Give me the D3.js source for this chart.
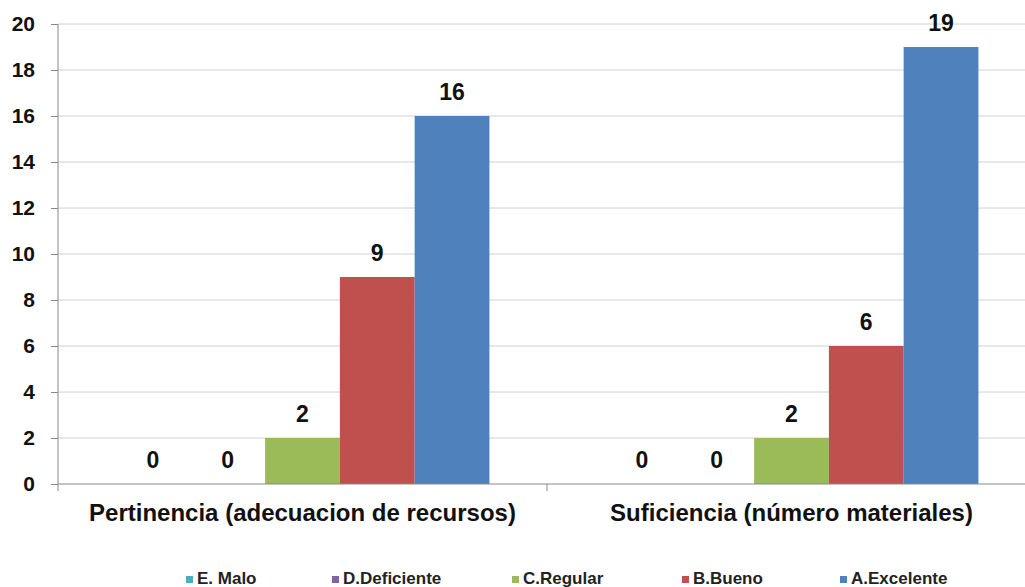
<!DOCTYPE html>
<html>
<head>
<meta charset="utf-8">
<script src="https://cdn.jsdelivr.net/npm/d3@7"></script>
<style>
body { margin: 0; background: #fff; }
svg { display: block; font-family: "Liberation Sans", Arial, sans-serif; }
</style>
</head>
<body>
<svg id="chart" width="1025" height="587"></svg>
<script>
// data
const categories = ["Pertinencia (adecuacion de recursos)", "Suficiencia (número materiales)"]
const seriesNames = ["E. Malo", "D.Deficiente", "C.Regular", "B.Bueno", "A.Excelente"]
const seriesColors = ["#4bacc6", "#8064a2", "#9bbb59", "#c0504d", "#4f81bd"]
const values = [
	[0, 0, 2, 9, 16],
	[0, 0, 2, 6, 19]
]
const yTicks = [0, 2, 4, 6, 8, 10, 12, 14, 16, 18, 20]

const svg = d3.select('#chart')
const plotLeft = 58, plotRight = 1036, plotTop = 24, plotBottom = 484

const x0 = d3.scaleBand().domain(categories).range([plotLeft, plotRight])
const x1 = d3.scaleBand().domain(seriesNames)
	.range([0, x0.bandwidth()]).paddingOuter(0.77)
const y = d3.scaleLinear().domain([0, 20]).range([plotBottom, plotTop])

// gridlines
svg.append('g').selectAll('line').data(yTicks.slice(1)).join('line')
	.attr('x1', plotLeft).attr('x2', plotRight)
	.attr('y1', d => y(d)).attr('y2', d => y(d))
	.attr('stroke', '#d0d0d0').attr('stroke-width', 1)

// bars
const groups = svg.append('g').selectAll('g').data(categories).join('g')
	.attr('transform', d => `translate(${x0(d)},0)`)

groups.selectAll('rect')
	.data((c, i) => seriesNames.map((s, j) => ({ s: s, v: values[i][j], color: seriesColors[j] })))
	.join('rect')
	.attr('x', d => x1(d.s))
	.attr('width', x1.bandwidth())
	.attr('y', d => y(d.v))
	.attr('height', d => plotBottom - y(d.v))
	.attr('fill', d => d.color)

groups.selectAll('text')
	.data((c, i) => seriesNames.map((s, j) => ({ s: s, v: values[i][j] })))
	.join('text')
	.attr('x', d => x1(d.s) + x1.bandwidth() / 2)
	.attr('y', d => y(d.v) - 16)
	.attr('text-anchor', 'middle')
	.attr('font-size', 23).attr('font-weight', 'bold').attr('fill', '#111')
	.text(d => d.v)

// y axis
const yAxis = svg.append('g').attr('transform', `translate(${plotLeft},0)`)
	.call(d3.axisLeft(y).tickValues(yTicks).tickSize(7).tickPadding(16))
yAxis.select('.domain').attr('stroke', '#888').attr('d', `M0,${plotTop}V${plotBottom}`)
yAxis.selectAll('.tick line').attr('stroke', '#888')
yAxis.selectAll('text').attr('font-size', 21).attr('font-weight', 'bold')
	.attr('fill', '#111').attr('font-family', '"Liberation Sans", Arial, sans-serif')

// x axis
const xAxis = svg.append('g').attr('transform', `translate(0,${plotBottom})`)
xAxis.append('line').attr('x1', plotLeft).attr('x2', plotRight)
	.attr('stroke', '#888')
xAxis.selectAll('.ctick').data(categories).join('line')
	.attr('class', 'ctick')
	.attr('x1', d => x0(d)).attr('x2', d => x0(d))
	.attr('y1', 0).attr('y2', 7).attr('stroke', '#888')
xAxis.selectAll('.clabel').data(categories).join('text')
	.attr('class', 'clabel')
	.attr('x', d => x0(d) + x0.bandwidth() / 2)
	.attr('y', 37)
	.attr('text-anchor', 'middle')
	.attr('font-size', 24).attr('font-weight', 'bold').attr('fill', '#111')
	.text(d => d)

// legend
const legendX = [186, 332, 512, 682, 840]
const legend = svg.append('g').selectAll('g').data(seriesNames).join('g')
	.attr('transform', (d, i) => `translate(${legendX[i]},584)`)
legend.append('rect').attr('x', 0).attr('y', -8).attr('width', 7).attr('height', 7)
	.attr('fill', (d, i) => seriesColors[i])
legend.append('text').attr('x', 11).attr('y', 0)
	.attr('font-size', 17).attr('font-weight', 'bold').attr('fill', '#222')
	.text(d => d)
</script>
</body>
</html>
